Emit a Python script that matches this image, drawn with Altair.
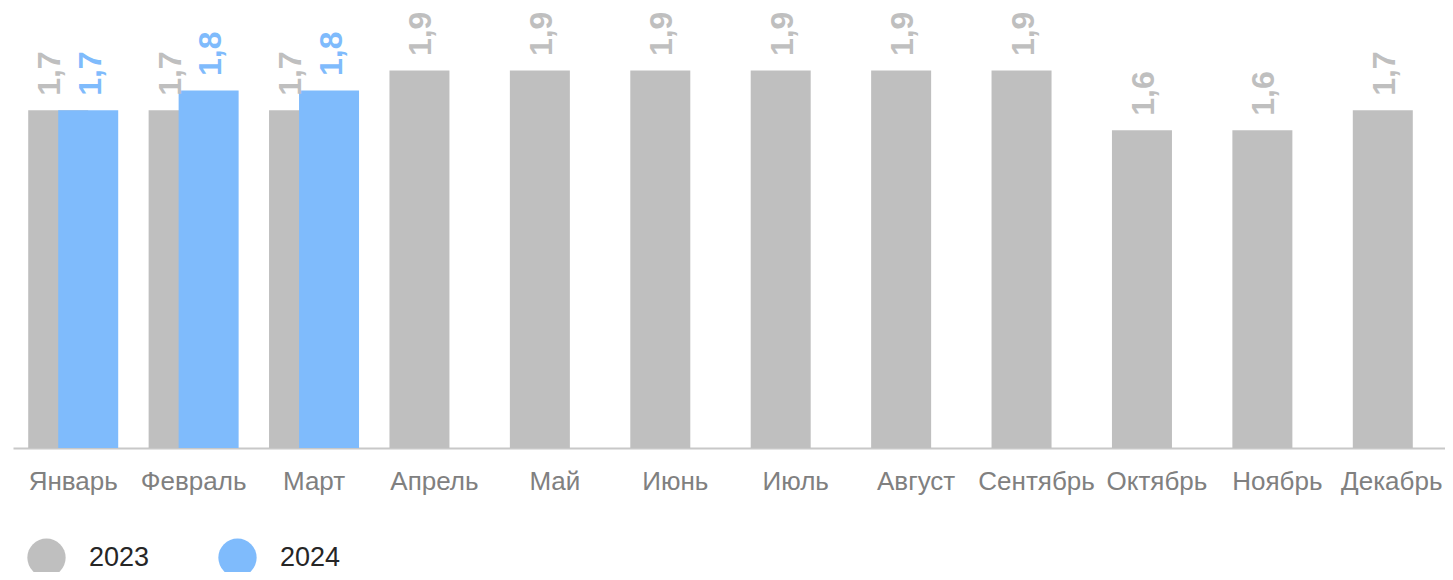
import altair as alt
import pandas as pd

months = ["Январь", "Февраль", "Март", "Апрель", "Май", "Июнь", "Июль",
          "Август", "Сентябрь", "Октябрь", "Ноябрь", "Декабрь"]
values_2023 = [1.7, 1.7, 1.7, 1.9, 1.9, 1.9, 1.9, 1.9, 1.9, 1.6, 1.6, 1.7]
values_2024 = [1.7, 1.8, 1.8, None, None, None, None, None, None, None, None, None]
years = ["2023", "2024"]

GRAY = "#bfbfbf"
BLUE = "#7fbbfc"
FONT = "Liberation Sans"

rows = []
for i, m in enumerate(months):
    paired = values_2024[i] is not None
    rows.append({"month": m, "year": "2023", "value": values_2023[i],
                 "label": f"{values_2023[i]:.1f}".replace(".", ","), "paired": paired})
    if paired:
        rows.append({"month": m, "year": "2024", "value": values_2024[i],
                     "label": f"{values_2024[i]:.1f}".replace(".", ","), "paired": True})
df = pd.DataFrame(rows)

last_month = months[-1]
x = alt.X("month:N", sort=months,
          scale=alt.Scale(paddingInner=0, paddingOuter=0, range=[0, 1445]),
          axis=alt.Axis(title=None, labelAngle=0, labelFontSize=26, labelFont=FONT,
                        labelColor="#808080", labelPadding=20, ticks=False, tickSize=0,
                        labelOffset={"condition": {"test": f"datum.value === '{last_month}'",
                                                   "value": -6}, "value": 0},
                        domainColor="#c8c8c8", domainWidth=2, grid=False))
y = alt.Y("value:Q", scale=alt.Scale(domain=[0, 2.2], nice=False, zero=True), axis=None)
color = alt.Color("year:N", scale=alt.Scale(domain=years, range=[GRAY, BLUE]),
                  legend=alt.Legend(title=None, orient="none", legendX=14, legendY=527,
                                    direction="horizontal", symbolType="circle",
                                    symbolSize=1467, symbolStrokeWidth=0, symbolOpacity=1,
                                    labelFontSize=27, labelFont=FONT, labelColor="#262626",
                                    labelOffset=23, columnPadding=68))
text_color = alt.Color("year:N", scale=alt.Scale(domain=years, range=[GRAY, BLUE]), legend=None)

base = alt.Chart(df)

bar23 = base.transform_filter("datum.year == '2023'").mark_bar(width=60, xOffset=-15).encode(
    x=x, y=y, color=color)
bar24 = base.transform_filter("datum.year == '2024'").mark_bar(width=60, xOffset=15).encode(
    x=x, y=y, color=color)

text_kw = dict(angle=270, align="left", baseline="middle", fontSize=32,
               fontWeight="bold", font=FONT, yOffset=-14.5)
t23p = base.transform_filter("datum.year == '2023' && datum.paired").mark_text(
    xOffset=-23, **text_kw).encode(x=x, y=y, text="label:N", color=text_color)
t23s = base.transform_filter("datum.year == '2023' && !datum.paired").mark_text(
    xOffset=-13, **text_kw).encode(x=x, y=y, text="label:N", color=text_color)
t24 = base.transform_filter("datum.year == '2024'").mark_text(
    xOffset=17.5, **text_kw).encode(x=x, y=y, text="label:N", color=text_color)

chart = alt.layer(bar23, bar24, t23p, t23s, t24).properties(
    width=1432, height=437,
    padding={"left": 5, "top": 3, "right": 0, "bottom": 124},
    autosize=alt.AutoSizeParams(type="none"),
    background="white",
).configure_view(stroke=None)

chart.save("out.html", embed_options={"renderer": "svg", "actions": False})
